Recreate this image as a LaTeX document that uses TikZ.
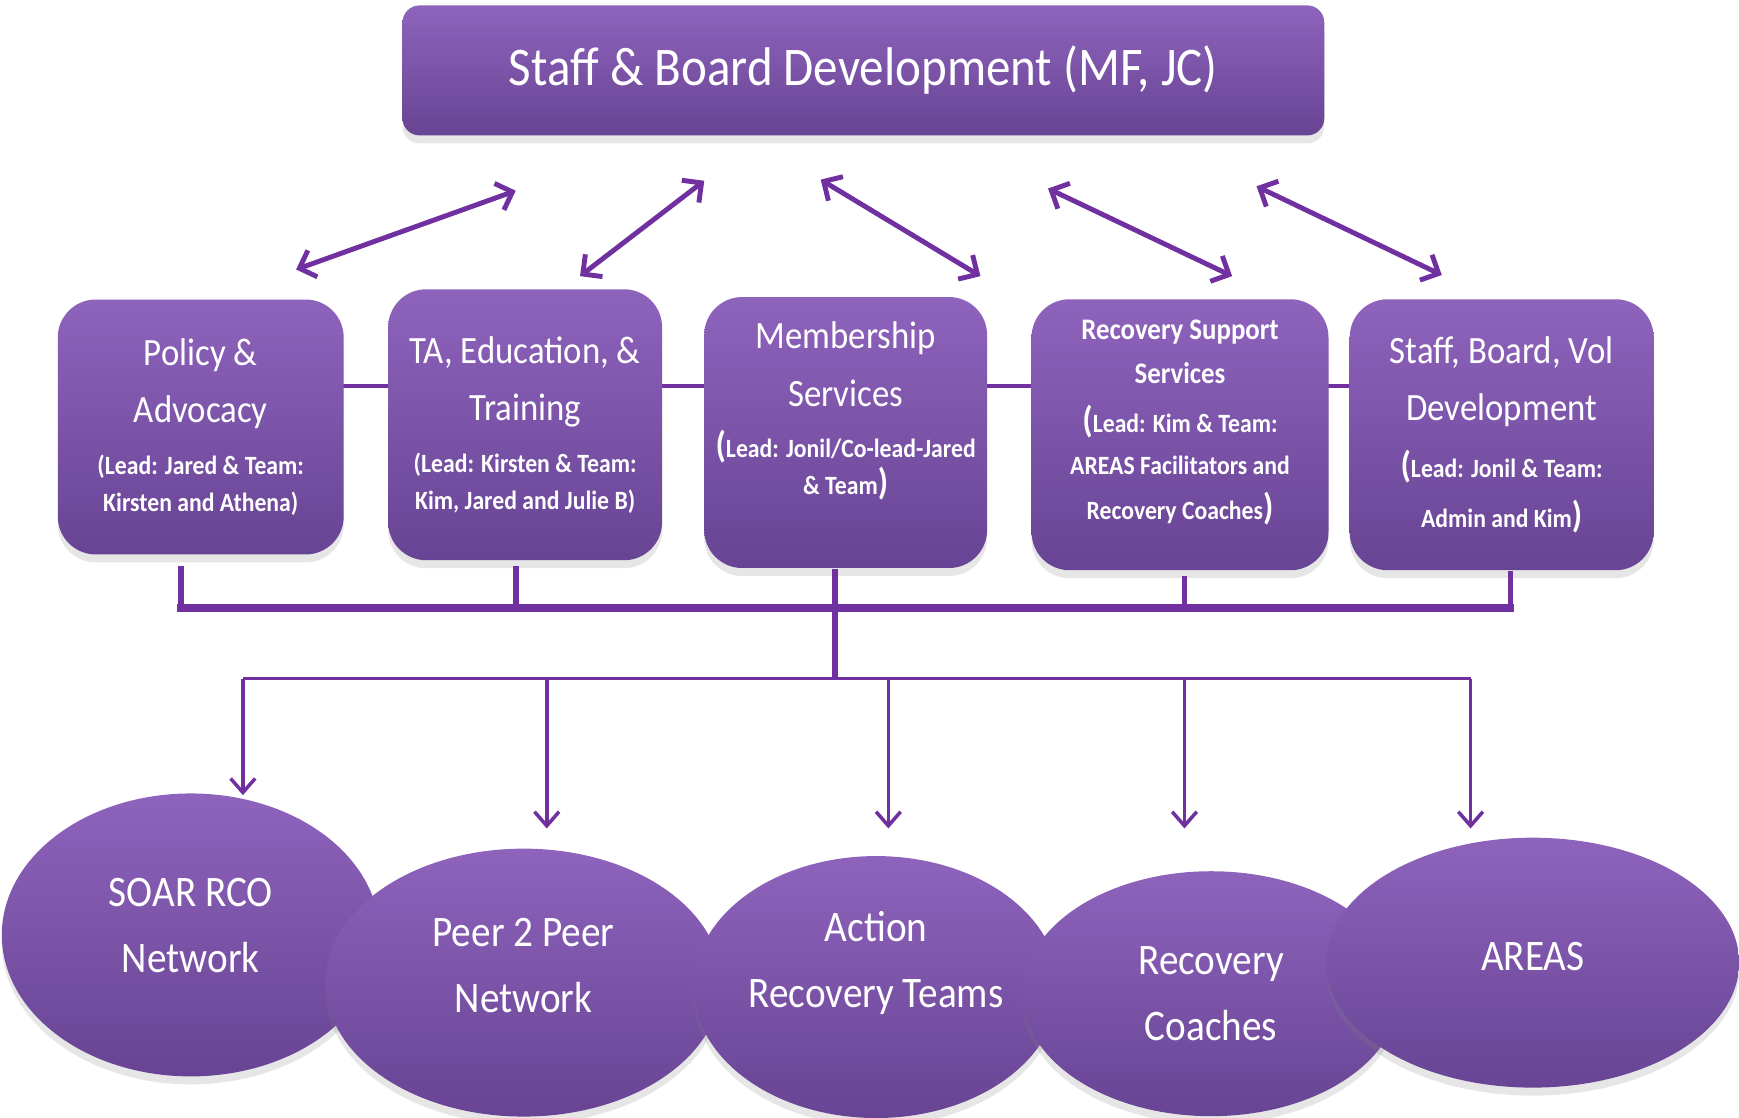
\documentclass[tikz,border=0pt]{standalone}
\usepackage{fontspec}
\setmainfont{Carlito}[FakeStretch=0.9]
\usetikzlibrary{positioning, shapes.geometric, arrows.meta, backgrounds, shadows}
\definecolor{orgLine}{RGB}{112, 48, 160}
\definecolor{orgTop}{RGB}{142, 99, 188}
\definecolor{orgBottom}{RGB}{104, 68, 148}
\newcommand{\leadtxt}{\fontsize{7.5}{10}\selectfont\bfseries}
\newcommand{\bigparen}{\fontsize{10.5}{10}\selectfont\bfseries}
\tikzset{
    base/.style={
        text=white,
        align=center
    },
    headbox/.style={
        base,
        rectangle,
        rounded corners=1.7mm,
        top color=orgTop,
        bottom color=orgBottom,
        minimum width=9.22cm,
        minimum height=1.30cm,
        font=\fontsize{15.5}{18}\selectfont,
        drop shadow={opacity=0.2, shadow xshift=0mm, shadow yshift=-0.8mm}
    },
    unitbox/.style={
        base,
        rectangle,
        rounded corners=3.8mm,
        top color=orgTop,
        bottom color=orgBottom,
        inner xsep=1mm,
        inner ysep=0.5mm,
        font=\fontsize{11}{16.3}\selectfont,
        drop shadow={opacity=0.2, shadow xshift=0mm, shadow yshift=-0.8mm}
    },
    outcome/.style={
        base,
        ellipse,
        top color=orgTop,
        bottom color=orgBottom,
        inner sep=0pt,
        font=\fontsize{12.4}{18.8}\selectfont,
        drop shadow={opacity=0.2, shadow xshift=0mm, shadow yshift=-0.8mm}
    },
    twoway/.style={
        {Straight Barb[length=4pt,width=8pt]}-{Straight Barb[length=4pt,width=8pt]},
        line width=1.4pt,
        color=orgLine
    },
    link/.style={line width=1pt, color=orgLine},
    stem/.style={line width=1.6pt, color=orgLine},
    bus/.style={line width=2.2pt, color=orgLine, line cap=rect},
    feed/.style={line width=1pt, color=orgLine},
    pointer/.style={-{Straight Barb[length=4pt,width=7pt]}, line width=1pt, color=orgLine}
}

\begin{document}
\begin{tikzpicture}[x=0.011091cm, y=-0.011091cm]
    \useasboundingbox (0,0) rectangle (1568,1008);

    % Top box
    \node[headbox] (sbd) at (778.5,63.5) {Staff \& Board Development (MF, JC)};

    % Program boxes
    \node[unitbox, minimum width=2.86cm, minimum height=2.55cm] (pol) at (181,385)
        {Policy \&\\Advocacy\\[-1.5pt]{\leadtxt (Lead: Jared \& Team:}\\[-5.9pt]{\leadtxt Kirsten and Athena)}};
    \node[unitbox, minimum width=2.74cm, minimum height=2.71cm] (ta) at (473.5,383)
        {TA, Education, \&\\Training\\[-1.5pt]{\leadtxt (Lead: Kirsten \& Team:}\\[-5.9pt]{\leadtxt Kim, Jared and Julie B)}};
    \node[unitbox, minimum width=2.83cm, minimum height=2.71cm] (memb) at (762.5,390)
        {Membership\\Services\\[-1.8pt]{\leadtxt{\bigparen(}Lead: Jonil/Co-lead-Jared}\\[-5.6pt]{\leadtxt \& Team{\bigparen)}}\\[-2.5pt]};
    \node[unitbox, minimum width=2.97cm, minimum height=2.71cm, font=\fontsize{8.5}{12.6}\selectfont\bfseries] (rss) at (1064,392)
        {Recovery Support\\Services\\[1.5pt]{\leadtxt{\bigparen(}Lead: Kim \& Team:}\\[-0.7pt]{\leadtxt AREAS Facilitators and}\\{\leadtxt Recovery Coaches{\bigparen)}}\\[-3.8pt]};
    \node[unitbox, minimum width=3.04cm, minimum height=2.71cm] (sbv) at (1354,392)
        {Staff, Board, Vol\\Development\\{\leadtxt{\bigparen(}Lead: Jonil \& Team:}\\[-2.2pt]{\leadtxt Admin and Kim{\bigparen)}}};

    % Outcome ellipses
    \node[outcome, minimum width=3.78cm, minimum height=2.83cm] (soar) at (172,843) {SOAR RCO\\Network\\[-13.5pt]};
    \node[outcome, minimum width=3.96cm, minimum height=2.68cm] (peer) at (472,886) {Peer 2 Peer\\Network\\[-8.8pt]};
    \node[outcome, minimum width=3.65cm, minimum height=2.62cm] (art) at (790,890) {Action\\Recovery Teams\\[-3.1pt]};
    \node[outcome, minimum width=3.77cm, minimum height=2.45cm] (rcoach) at (1092,896) {Recovery\\Coaches};
    \node[outcome, minimum width=4.13cm, minimum height=2.50cm] (areas) at (1382,868) {AREAS\\[-15pt]};

    % Links to the top box
    \foreach \i/\xa/\ya/\xb/\yb in {1/465/172/267/243, 2/635/163/523/249, 3/740/162/884/249, 4/945/170/1111/249, 5/1133/168/1300/248} {
        \coordinate (up\i) at (\xa,\ya);
        \coordinate (dn\i) at (\xb,\yb);
        \draw[twoway] (up\i) -- (dn\i);
    }

    % Row line behind the program boxes
    \begin{scope}[on background layer]
        \draw[link] (pol.center |- 0,348) -- (sbv.center |- 0,348);
    \end{scope}

    % Bus under the program boxes
    \foreach \i/\x in {1/163, 2/465, 3/753, 4/1068, 5/1362} {
        \coordinate (drop\i) at (\x,548);
    }
    \coordinate (hub) at (753,612);
    \draw[stem] ([yshift=-3pt]drop1 |- pol.south) -- (drop1);
    \draw[stem] ([yshift=-1.5pt]drop2 |- ta.south) -- (drop2);
    \draw[stem] (drop3 |- memb.south) -- (hub);
    \draw[stem] ([yshift=-1.5pt]drop4 |- rss.south) -- (drop4);
    \draw[stem] (drop5 |- sbv.south) -- (drop5);
    \draw[bus] (drop1) -- (drop5);

    % Feeds to the outcomes
    \foreach \i/\x/\y in {1/219/717, 2/493/747, 3/801/747, 4/1068/747, 5/1326/747} {
        \coordinate (tap\i) at (\x,612);
        \coordinate (tip\i) at (\x,\y);
        \draw[pointer] (tap\i) -- (tip\i);
    }
    \draw[feed] (tap1) -- (tap5);

\end{tikzpicture}
\end{document}
